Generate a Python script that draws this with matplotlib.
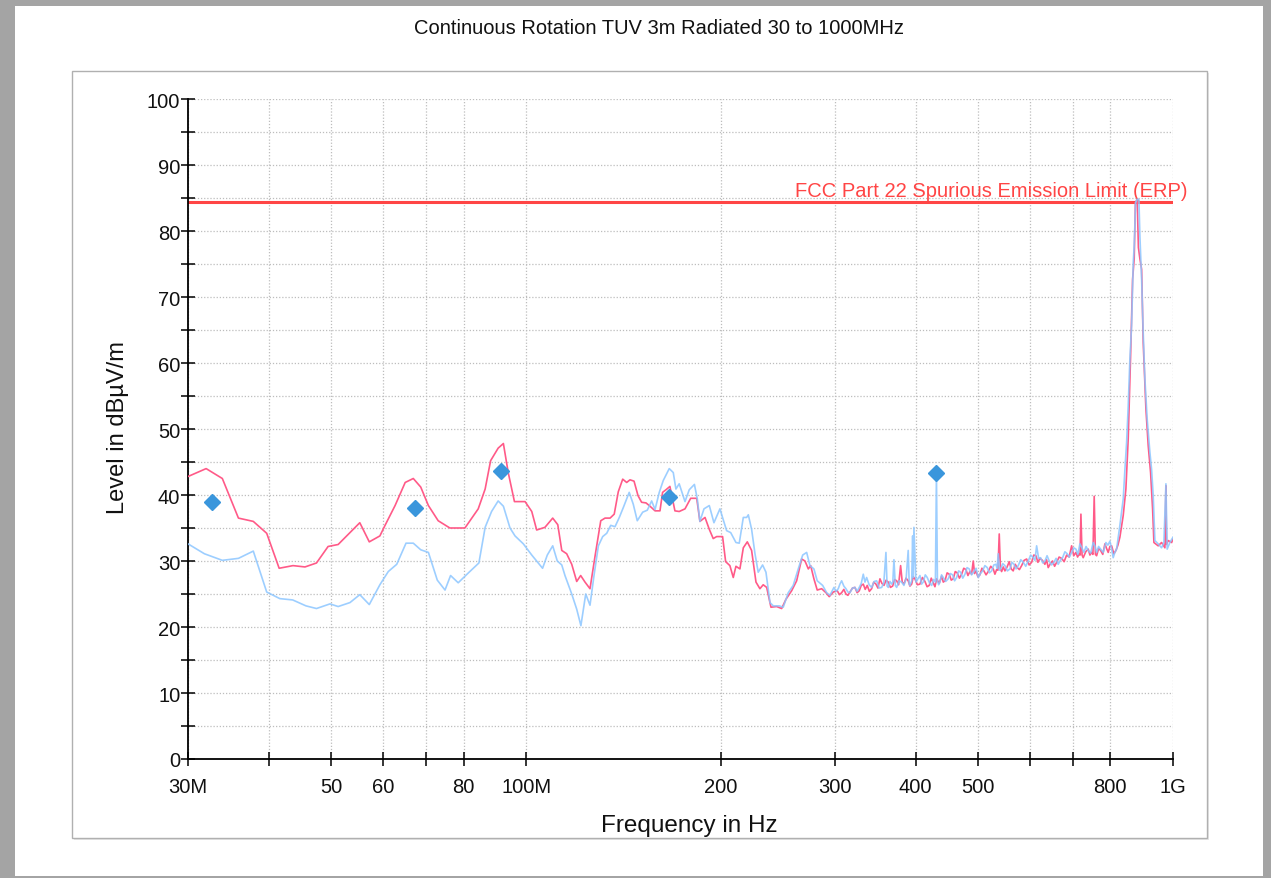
import matplotlib
matplotlib.use("Agg")
import matplotlib.pyplot as plt
from matplotlib.patches import Rectangle
from matplotlib.ticker import FixedLocator, FixedFormatter, MultipleLocator, NullLocator
from matplotlib.transforms import blended_transform_factory

plt.rcParams["font.family"] = ["Liberation Sans", "DejaVu Sans"]

# ---- data (frequency in MHz, level in dBuV/m) ----
# red trace, 30-300 MHz
red_freq_low = [30.0, 32.0, 33.9, 35.9, 37.85, 39.7, 41.5, 43.6, 45.5, 47.4, 49.4, 51.2, 53.4, 55.3,
                57.2, 59.4, 60.5, 62.7, 65.0, 66.9, 68.7, 70.6, 73.1, 76.2, 80.4, 84.3, 86.4, 88.1,
                90.5, 92.2, 93.8, 95.9, 99.6, 102.0, 103.8, 106.9, 109.9, 111.9, 113.5, 115.5, 117.6,
                119.7, 121.4, 123.3, 125.5, 127.8, 130.4, 132.4, 134.8, 136.8, 138.8, 141.0, 143.0,
                144.7, 146.8, 148.9, 150.8, 153.2, 155.4, 158.2, 161.0, 162.5, 164.5, 166.8, 169.8,
                172.4, 176.0, 179.6, 183.5, 185.6, 189.0, 191.9, 194.6, 197.0, 201.2, 203.4, 206.5,
                209.0, 211.0, 214.0, 216.6, 219.7, 223.1, 226.6, 229.8, 232.5, 235.4, 239.0, 243.9,
                248.3, 252.1, 257.3, 261.9, 266.6, 269.8, 273.0, 275.3, 278.5, 281.8, 286.3, 290.7,
                294.1, 298.4]
red_level_low = [42.8, 44.0, 42.5, 36.5, 36.0, 34.2, 28.9, 29.3, 29.1, 29.7, 32.2, 32.5, 34.3, 35.8,
                 32.9, 33.8, 35.4, 38.4, 41.9, 42.5, 41.2, 38.4, 36.1, 35.0, 35.0, 37.9, 40.9, 45.2,
                 47.1, 47.8, 43.4, 39.0, 39.0, 37.5, 34.7, 35.1, 36.5, 35.5, 31.6, 31.1, 29.5,
                 26.9, 27.8, 26.8, 25.8, 30.8, 36.1, 36.5, 36.5, 37.1, 40.5, 42.4, 41.9,
                 42.3, 42.1, 39.9, 38.9, 38.8, 38.3, 37.6, 37.6, 40.4, 40.8, 41.3, 37.6,
                 37.5, 37.9, 39.5, 39.5, 36.0, 36.6, 34.8, 33.4, 33.7, 33.7, 29.9, 29.3,
                 27.5, 29.2, 28.8, 32.0, 32.9, 31.6, 26.8, 25.8, 26.4, 26.0, 23.0, 23.1,
                 22.8, 24.2, 25.5, 27.0, 30.3, 30.0, 28.8, 29.3, 27.3, 25.6, 25.8, 25.2,
                 24.6, 25.3]
# red trace, 300-820 MHz
red_freq_mid = [302.6, 305.0, 307.4, 309.8, 312.1, 314.3, 316.6, 319.5, 322.3, 324.8,
                327.3, 329.6, 332.0, 334.3, 336.7, 339.3, 342.0, 344.6, 347.3, 349.8,
                352.3, 354.8, 357.4, 360.1, 362.9, 365.7, 368.6, 371.2, 373.9, 376.5,
                379.2, 381.4, 383.7, 386.6, 389.6, 392.0, 394.4, 396.7, 399.0, 402.6,
                406.2, 409.8, 413.5, 416.7, 419.9, 422.9, 425.9, 428.5, 431.1, 435.0,
                438.8, 441.4, 444.0, 447.5, 450.9, 454.1, 457.3, 460.6, 463.9, 467.5,
                471.2, 474.8, 478.5, 481.9, 485.3, 488.2, 491.1, 493.4, 495.8, 499.3,
                502.9, 506.5, 510.1, 514.0, 518.0, 522.6, 527.3, 530.5, 533.7, 536.2,
                538.7, 541.0, 543.3, 546.5, 549.7, 554.0, 558.2, 562.2, 566.2, 570.2,
                574.3, 578.8, 583.4, 588.6, 593.9, 599.2, 604.5, 609.2, 613.9, 618.2,
                622.6, 628.2, 633.8, 637.5, 641.3, 646.3, 651.4, 656.1, 660.8, 666.7,
                672.6, 678.7, 684.8, 690.9, 697.0, 702.4, 707.8, 712.0, 716.1, 718.3,
                720.5, 723.4, 726.4, 733.0, 739.4, 744.0, 748.4, 752.0, 755.4, 758.6,
                761.9, 767.4, 772.8, 778.8, 784.8, 789.4, 794.0, 798.8, 803.7, 810.0,
                816.1, 821.9]
red_level_mid = [25.5, 24.9, 25.2, 25.7, 25.0, 24.8, 25.3, 25.9, 26.0, 25.2,
                 25.5, 26.3, 26.5, 25.7, 26.3, 25.4, 25.8, 26.8, 26.5, 25.9,
                 27.3, 26.6, 26.3, 27.1, 26.8, 26.0, 26.2, 27.2, 27.0, 26.4,
                 29.3, 26.8, 26.5, 27.4, 27.0, 26.2, 26.5, 27.6, 27.3, 26.4,
                 26.5, 27.5, 26.9, 26.1, 26.3, 27.4, 26.7, 26.1, 27.3, 26.6,
                 27.7, 26.8, 27.0, 28.2, 28.0, 27.1, 27.3, 28.4, 28.2, 27.4,
                 28.0, 28.9, 28.7, 27.8, 28.4, 28.0, 30.0, 28.1, 28.5, 27.6,
                 27.9, 28.9, 28.5, 27.9, 28.4, 29.2, 28.8, 28.0, 28.7, 28.6,
                 34.1, 28.8, 28.4, 29.1, 28.5, 29.1, 29.9, 28.8, 28.5, 29.5,
                 29.0, 28.7, 29.3, 30.1, 30.3, 29.4, 29.8, 30.9, 30.8, 29.8,
                 30.4, 30.1, 29.5, 30.2, 29.0, 29.6, 30.0, 29.2, 29.8, 30.6,
                 30.4, 29.9, 30.9, 30.6, 32.3, 30.8, 31.3, 30.6, 31.1, 30.9,
                 37.1, 30.9, 30.5, 31.4, 31.8, 30.9, 31.3, 31.0, 39.8, 31.0,
                 30.8, 31.9, 31.6, 31.0, 32.6, 31.9, 31.3, 32.2, 32.3, 31.1,
                 31.6, 32.4]
# red trace, 820-1000 MHz (carrier)
red_freq_peak = [827.7, 837.6, 845.6, 852.6, 859.9, 866.0, 871.0, 874.7, 880.3, 884.1, 888.8,
                 894.3, 899.4, 908.1, 915.5, 923.3, 929.9, 934.3, 948.6, 960.2, 971.6, 975.1,
                 977.0, 983.0, 995.0, 1000.0]
red_level_peak = [33.6, 36.9, 40.9, 48.5, 61.1, 72.7, 75.8, 84.3, 84.8, 77.5, 75.8,
                  74.2, 63.1, 53.0, 47.5, 43.4, 37.9, 32.8, 32.3, 32.8, 32.0, 41.4,
                  32.5, 33.1, 32.8, 33.3]

# blue trace, 30-300 MHz
blue_freq_low = [30.0, 31.8, 33.9, 35.9, 37.85, 39.7, 41.6, 43.55, 45.66, 47.4, 49.73, 51.2, 53.4,
                 55.3, 57.2, 59.4, 61.2, 63.07, 65.19, 66.9, 68.7, 70.6, 72.87, 74.9, 76.4, 78.5,
                 81.4, 84.5, 86.4, 88.4, 90.5, 92.2, 94.4, 96.1, 98.98, 102.0, 106.0, 107.8, 109.9,
                 111.7, 113.5, 114.8, 117.6, 119.7, 121.5, 123.6, 125.5, 127.3, 129.3, 131.3, 133.2,
                 135.1, 137.2, 139.3, 141.3, 144.3, 146.4, 148.5, 151.4, 153.9, 156.3, 158.2, 160.6,
                 162.9, 166.4, 168.8, 170.4, 172.4, 176.0, 178.7, 182.0, 183.9, 185.6, 188.3, 191.9,
                 195.1, 199.3, 204.1, 207.1, 211.0, 213.5, 216.6, 219.2, 220.5, 223.1, 225.8, 228.4,
                 232.0, 234.8, 238.2, 241.0, 246.2, 249.7, 254.2, 258.7, 263.4, 267.6, 271.4, 274.6,
                 278.5, 281.8, 287.3, 291.4, 294.9]
blue_level_low = [32.6, 31.1, 30.1, 30.4, 31.5, 25.3, 24.3, 24.1, 23.2, 22.8, 23.5, 23.1, 23.7,
                  24.9, 23.4, 26.4, 28.4, 29.5, 32.7, 32.7, 31.7, 31.3, 27.1, 25.6, 27.8, 26.7,
                  28.2, 29.7, 35.1, 37.5, 39.1, 38.3, 35.0, 33.8, 32.6, 30.9, 28.9, 30.9, 32.3,
                  30.0, 29.4, 27.8, 25.0, 22.7, 20.2, 25.0, 23.3, 27.8, 32.3, 33.7, 34.2,
                  35.4, 35.2, 36.6, 38.1, 40.4, 38.6, 36.1, 37.4, 37.7, 39.1, 37.8, 40.4,
                  42.2, 44.0, 43.4, 40.9, 41.7, 39.0, 40.8, 41.6, 39.4, 36.0, 37.9, 38.4,
                  35.8, 37.9, 34.6, 34.3, 32.8, 32.7, 36.6, 36.6, 37.0, 34.8, 31.1, 28.3,
                  29.4, 28.3, 23.7, 23.2, 23.2, 23.0, 25.2, 26.3, 28.8, 30.9, 31.3, 29.3,
                  28.8, 27.0, 26.3, 25.2, 24.8]
# blue trace, 300-820 MHz
blue_freq_mid = [299.1, 301.4, 303.7, 305.5, 307.4, 309.8, 312.1, 314.3, 316.6, 319.5,
                 322.3, 324.8, 327.3, 329.6, 332.0, 334.0, 336.0, 339.0, 342.0, 345.1,
                 348.2, 351.3, 354.5, 357.2, 359.9, 361.4, 362.9, 365.1, 367.3, 368.8,
                 370.3, 372.1, 373.9, 377.2, 380.6, 383.7, 386.7, 389.6, 391.0, 392.0,
                 394.5, 395.8, 396.7, 397.6, 400.5, 403.3, 406.2, 408.6, 411.0, 414.0,
                 416.9, 420.2, 423.5, 426.3, 429.2, 430.8, 432.3, 434.2, 436.2, 438.7,
                 441.3, 445.2, 449.2, 452.7, 456.3, 459.6, 462.9, 466.2, 469.5, 473.1,
                 476.8, 480.4, 484.1, 488.2, 492.3, 496.1, 499.9, 503.8, 507.7, 511.9,
                 516.2, 520.2, 524.3, 528.4, 532.4, 534.6, 536.8, 539.1, 541.4, 545.5,
                 549.7, 554.6, 559.6, 563.6, 567.6, 572.0, 576.4, 581.6, 586.8, 592.0,
                 597.2, 602.6, 608.0, 611.7, 615.4, 619.8, 624.2, 629.0, 633.8, 638.7,
                 643.6, 649.0, 654.5, 659.5, 664.5, 669.7, 675.0, 680.6, 686.2, 691.6,
                 697.0, 702.4, 707.8, 712.8, 717.9, 723.0, 728.2, 733.8, 739.4, 746.0,
                 752.7, 757.3, 761.9, 767.3, 772.8, 780.1, 787.5, 793.1, 798.8, 803.5,
                 808.2, 813.1, 818.1]
blue_level_mid = [26.0, 25.4, 25.8, 26.5, 27.0, 26.2, 25.8, 25.3, 25.2, 25.9,
                  26.0, 25.4, 26.0, 26.6, 28.0, 26.8, 27.5, 26.4, 26.0, 26.9,
                  27.0, 25.9, 26.0, 26.7, 31.3, 26.2, 26.0, 26.9, 26.5, 26.8,
                  30.2, 26.3, 26.0, 27.0, 26.8, 26.3, 27.3, 31.6, 26.5, 26.3,
                  27.0, 33.8, 27.5, 35.1, 26.8, 27.3, 27.8, 26.5, 26.8, 27.9,
                  27.5, 26.7, 26.3, 27.2, 26.8, 43.3, 27.0, 26.4, 26.8, 27.9,
                  27.5, 26.9, 27.3, 28.1, 27.9, 27.0, 27.5, 28.5, 28.3, 27.4,
                  28.0, 29.0, 28.8, 27.9, 28.4, 28.9, 27.5, 28.1, 28.5, 29.3,
                  29.0, 28.2, 28.5, 29.4, 29.5, 28.9, 31.1, 28.6, 28.8, 29.6,
                  29.3, 28.5, 28.8, 29.8, 29.5, 28.8, 29.3, 30.2, 29.8, 29.2,
                  30.0, 30.9, 30.5, 30.1, 32.3, 30.4, 30.5, 29.7, 30.0, 30.8,
                  30.0, 29.4, 29.8, 30.4, 29.5, 30.1, 30.5, 31.4, 31.1, 30.6,
                  31.3, 32.0, 31.8, 31.0, 32.6, 32.0, 31.3, 32.2, 31.6, 31.2,
                  32.8, 32.3, 31.3, 32.2, 31.8, 31.3, 32.8, 32.4, 33.0, 31.9,
                  30.5, 31.3, 31.8]
# blue trace, 820-1000 MHz (carrier)
blue_freq_peak = [827.7, 837.6, 842.7, 847.8, 852.6, 857.7, 863.0, 868.0, 871.0, 875.3,
                  880.3, 885.7, 888.8, 894.3, 899.4, 904.8, 912.2, 921.0, 926.6, 932.0,
                  937.6, 948.6, 960.2, 968.1, 975.1, 979.5, 988.9, 1000.0]
blue_level_peak = [35.4, 39.4, 43.9, 48.0, 53.5, 60.6, 65.7, 75.2, 77.8, 84.3,
                   84.8, 84.8, 79.3, 72.7, 64.6, 57.6, 51.5, 46.5, 43.9, 39.9,
                   33.1, 32.6, 32.0, 32.8, 41.7, 31.8, 32.8, 33.6]

# final measurements (diamonds)
peak_freq = [32.7, 67.3, 91.3, 166.2, 430.0]
peak_level = [38.9, 38.0, 43.6, 39.7, 43.3]

limit_level = 84.4
limit_label = "FCC Part 22 Spurious Emission Limit (ERP)"

x_ticks = [30, 40, 50, 60, 70, 80, 100, 200, 300, 400, 500, 600, 700, 800, 1000]
x_tick_labels = ["30M", "", "50", "60", "", "80", "100M", "200", "300", "400", "500", "", "", "800", "1G"]
y_ticks = [0, 10, 20, 30, 40, 50, 60, 70, 80, 90, 100]

red_freq = red_freq_low + red_freq_mid + red_freq_peak
red_level = red_level_low + red_level_mid + red_level_peak
blue_freq = blue_freq_low + blue_freq_mid + blue_freq_peak
blue_level = blue_level_low + blue_level_mid + blue_level_peak

# ---- layout helpers (pixel -> figure fraction) ----
W, H = 1271, 879


def fx(px):
    return px / W


def fy(py):
    return 1 - py / H


fig = plt.figure(figsize=(W / 100, H / 100), dpi=100, facecolor="#a4a4a4")

# white page and inner framed panel
fig.patches.append(Rectangle((fx(15), fy(877)), fx(1263) - fx(15), fy(7) - fy(877),
                             transform=fig.transFigure, facecolor="white", edgecolor="none", zorder=-3))
fig.patches.append(Rectangle((fx(74), fy(841)), fx(1209) - fx(74), fy(74) - fy(841),
                             transform=fig.transFigure, facecolor="#e6e6e6", edgecolor="none", zorder=-2))
fig.patches.append(Rectangle((fx(72), fy(839)), fx(1207) - fx(72), fy(72) - fy(839),
                             transform=fig.transFigure, facecolor="white", edgecolor="#b0b0b0",
                             linewidth=1.0, zorder=-1))

ax = fig.add_axes([fx(188), fy(760), fx(1173) - fx(188), fy(100) - fy(760)])
ax.set_facecolor("none")
ax.set_xscale("log")
ax.set_xlim(30, 1000)
ax.set_ylim(0, 100)

ax.xaxis.set_major_locator(FixedLocator(x_ticks))
ax.xaxis.set_major_formatter(FixedFormatter(x_tick_labels))
ax.xaxis.set_minor_locator(NullLocator())
ax.yaxis.set_major_locator(FixedLocator(y_ticks))
ax.yaxis.set_minor_locator(MultipleLocator(5))

ax.tick_params(which="both", direction="inout", length=10, width=1.1, color="black",
               labelsize=14.5, labelcolor="#111111")
ax.tick_params(axis="x", pad=8)
ax.tick_params(axis="y", pad=0.5)

grid_style = dict(color="#bdbdbd", linestyle=(0, (1, 1.5)), linewidth=0.9)
ax.grid(True, axis="y", which="both", **grid_style)
ax.grid(True, axis="x", which="major", **grid_style)

for side in ("top", "right"):
    ax.spines[side].set_visible(False)
for side in ("left", "bottom"):
    ax.spines[side].set_linewidth(1.3)
    ax.spines[side].set_color("black")

# limit line and label
ax.axhline(limit_level, color="#ff4545", linewidth=2.2, zorder=2)
trans = blended_transform_factory(ax.transAxes, ax.transData)
ax.text(1.0152, limit_level + 0.3, limit_label, transform=trans, ha="right", va="bottom",
        color="#ff4545", fontsize=14.5, clip_on=False)

# traces
ax.plot(red_freq, red_level, color="#ff5a88", linewidth=1.2, zorder=3)
ax.plot(blue_freq, blue_level, color="#8cc6ff", linewidth=1.2, alpha=0.85, zorder=4)
ax.plot(peak_freq, peak_level, linestyle="none", marker="D", markersize=8.5,
        color="#3a96dc", markeredgecolor="#3a96dc", zorder=5)

# texts
fig.text(fx(659), fy(28), "Continuous Rotation TUV 3m Radiated 30 to 1000MHz",
         ha="center", va="center", fontsize=14.5, color="#111111")
fig.text(fx(118), fy(428), "Level in dB\u00b5V/m", rotation=90, ha="center", va="center",
         fontsize=17, color="#111111")
fig.text(fx(689), fy(826), "Frequency in Hz", ha="center", va="center",
         fontsize=17.5, color="#111111")

fig.savefig("out.png", dpi=100, facecolor=fig.get_facecolor())
